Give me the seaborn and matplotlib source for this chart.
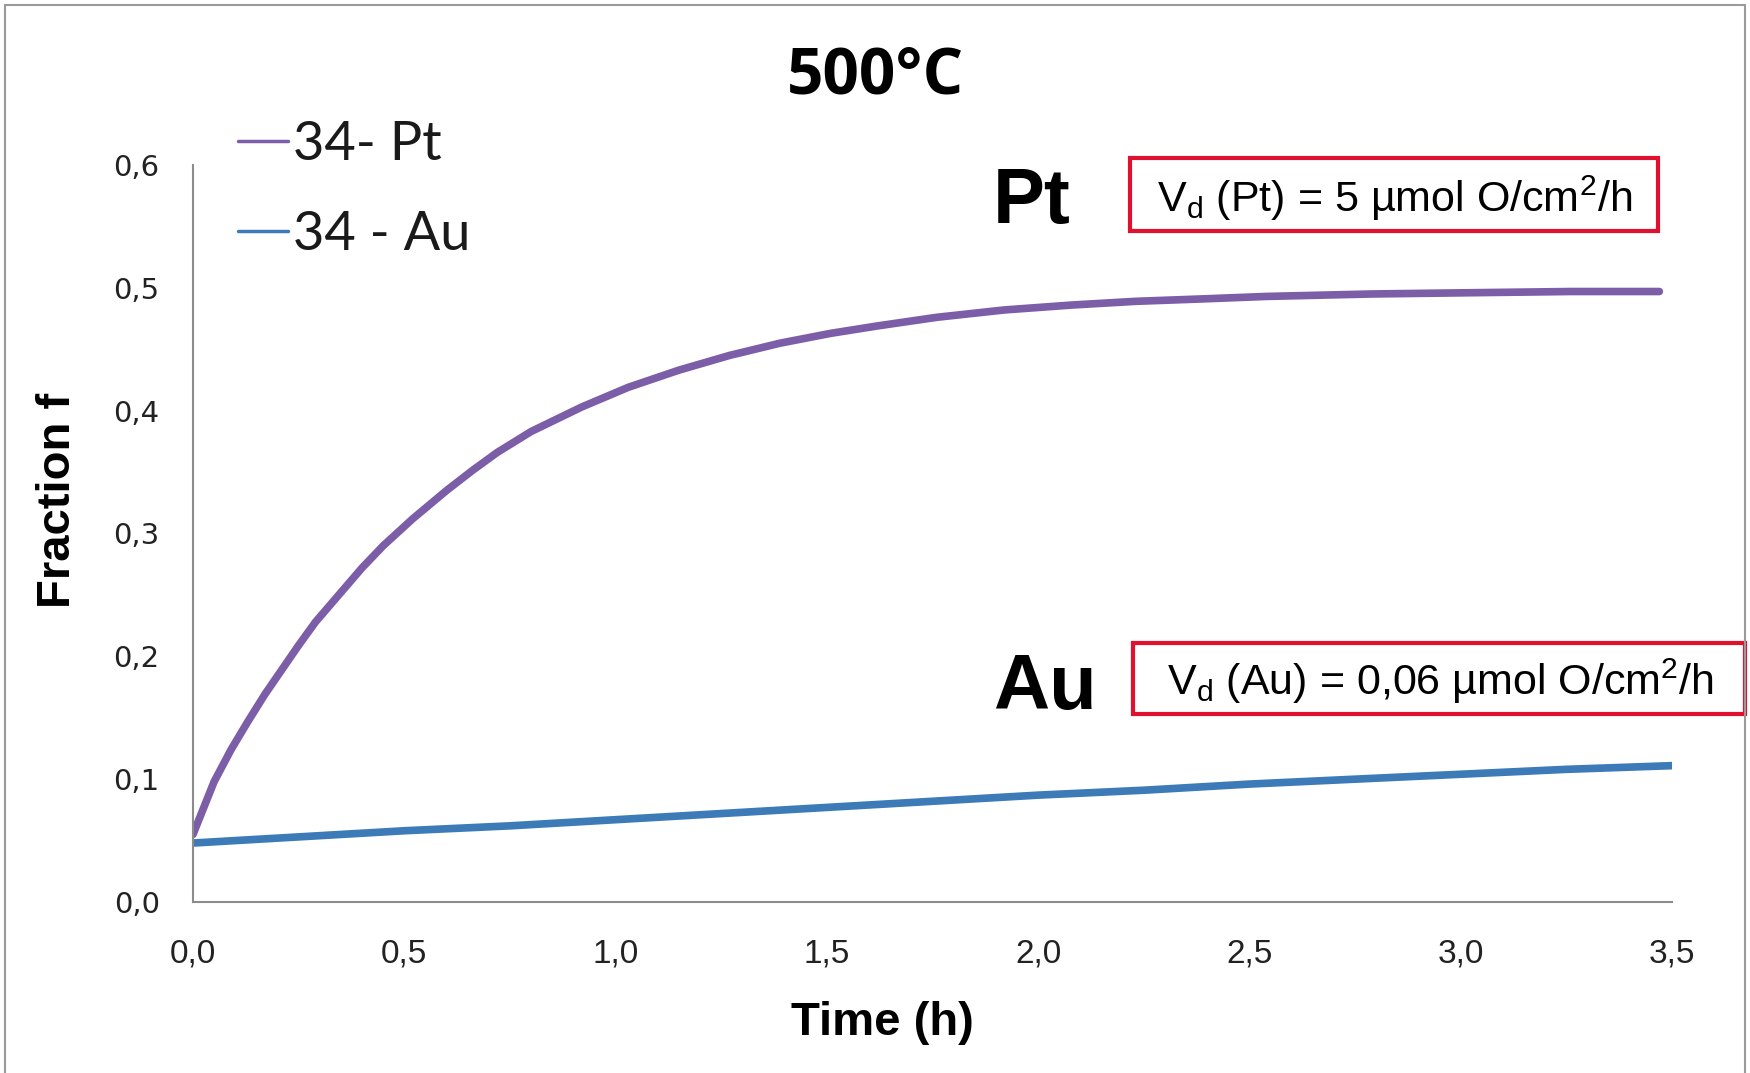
import numpy as np
import pandas as pd
import matplotlib
matplotlib.use("Agg")
import matplotlib.pyplot as plt
from matplotlib import font_manager as fm
from matplotlib.patches import Rectangle
import seaborn as sns

# Oxygen fraction measured at 500 °C for the Pt-coated and Au-coated samples
pt_time = [0.00, 0.05, 0.09, 0.13, 0.17, 0.21, 0.25, 0.29, 0.35, 0.40, 0.45,
           0.52, 0.60, 0.66, 0.72, 0.80, 0.92, 1.03, 1.15, 1.27, 1.39, 1.51,
           1.62, 1.76, 1.92, 2.08, 2.23, 2.39, 2.54, 2.79, 3.02, 3.26, 3.47]
pt_frac = [0.055, 0.098, 0.124, 0.147, 0.169, 0.189, 0.209, 0.228, 0.252,
           0.272, 0.290, 0.312, 0.335, 0.351, 0.366, 0.383, 0.403, 0.419,
           0.433, 0.445, 0.455, 0.463, 0.469, 0.476, 0.482, 0.486, 0.489,
           0.491, 0.493, 0.495, 0.496, 0.497, 0.497]

au_time = [0.00, 0.25, 0.50, 0.75, 1.00, 1.25, 1.50, 1.75, 2.00, 2.25, 2.50,
           2.75, 3.00, 3.25, 3.50]
au_frac = [0.048, 0.053, 0.058, 0.062, 0.067, 0.072, 0.077, 0.082, 0.087,
           0.091, 0.096, 0.100, 0.104, 0.108, 0.111]

series_names = ["34- Pt", "34 - Au"]
series_colors = ["#7B5EA7", "#3D7AB8"]

x_ticks = [0.0, 0.5, 1.0, 1.5, 2.0, 2.5, 3.0, 3.5]
y_ticks = [0.0, 0.1, 0.2, 0.3, 0.4, 0.5, 0.6]

title_text = "500°C"
x_label = "Time (h)"
y_label = "Fraction f"
pt_tag = "Pt"
au_tag = "Au"
pt_rate = r"V$_{\rm d}$ (Pt) = 5 µmol O/cm$^{\rm 2}$/h"
au_rate = r"V$_{\rm d}$ (Au) = 0,06 µmol O/cm$^{\rm 2}$/h"

sns.set_theme(style="white")

installed = {f.name for f in fm.fontManager.ttflist}
narrow = "Liberation Sans Narrow" if "Liberation Sans Narrow" in installed else "Liberation Sans"
plt.rcParams["font.family"] = ["DejaVu Sans"]
plt.rcParams["mathtext.fontset"] = "custom"
plt.rcParams["mathtext.rm"] = "Liberation Sans"
plt.rcParams["mathtext.it"] = "Liberation Sans:italic"
plt.rcParams["mathtext.bf"] = "Liberation Sans:bold"

df = pd.concat([
    pd.DataFrame({"time": pt_time, "frac": pt_frac, "series": series_names[0]}),
    pd.DataFrame({"time": au_time, "frac": au_frac, "series": series_names[1]}),
], ignore_index=True)

W, H = 1750, 1073
fig = plt.figure(figsize=(W / 100, H / 100), dpi=100)
ax = fig.add_axes([193 / W, 1 - 902 / H, (1672 - 193) / W, (902 - 165) / H])

sns.lineplot(data=df, x="time", y="frac", hue="series",
             palette=dict(zip(series_names, series_colors)),
             linewidth=5.5, ax=ax, sort=False, estimator=None)

ax.set_xlim(0, 3.5)
ax.set_ylim(0, 0.6)
ax.set_xticks(x_ticks)
ax.set_yticks(y_ticks)
ax.set_xticklabels([f"{v:.1f}".replace(".", ",") for v in x_ticks],
                   fontfamily=narrow, fontsize=24, color="#222222")
ax.set_yticklabels([f"{v:.1f}".replace(".", ",") for v in y_ticks],
                   fontfamily="DejaVu Sans", fontsize=21, color="#222222")
ax.tick_params(axis="both", length=0)
ax.tick_params(axis="x", pad=26)
ax.tick_params(axis="y", pad=24)

for side in ["top", "right"]:
    ax.spines[side].set_visible(False)
for side in ["left", "bottom"]:
    ax.spines[side].set_color("#8c8c8c")
    ax.spines[side].set_linewidth(1.5)

ax.set_xlabel(x_label, fontfamily=narrow, fontweight="bold", fontsize=34, color="black")
ax.set_ylabel(y_label, fontfamily=narrow, fontweight="bold", fontsize=34, color="black")
ax.xaxis.set_label_coords((882 - 193) / 1479, (902 - 1001) / 737)
ax.yaxis.set_label_coords((80 - 193) / 1479, (902 - 500) / 737)

leg = ax.legend(loc="upper left", bbox_to_anchor=(238 / W, 1 - 120 / H),
                bbox_transform=fig.transFigure, frameon=False, borderpad=0,
                borderaxespad=0, handlelength=0.93, handletextpad=0.08,
                labelspacing=0.75, prop={"family": "Lato", "size": 39})
for line in leg.get_lines():
    line.set_linewidth(2.5)
for t in leg.get_texts():
    t.set_color("#1a1a1a")

fig.text(875 / W, 1 - 93 / H, title_text, ha="center", va="baseline",
         fontfamily="Open Sans", fontweight="bold", fontsize=46, color="black")

fig.text(993 / W, 1 - 223 / H, pt_tag, ha="left", va="baseline",
         fontfamily="Liberation Sans", fontweight="bold", fontsize=56, color="black")
fig.text(993 / W, 1 - 709 / H, au_tag, ha="left", va="baseline",
         fontfamily="Liberation Sans", fontweight="bold", fontsize=56, color="black")

box_red = "#E0102F"
fig.patches.append(Rectangle((1130 / W, 1 - 231 / H), (1658 - 1130) / W, 73 / H,
                             transform=fig.transFigure, fill=False,
                             edgecolor=box_red, linewidth=3))
fig.patches.append(Rectangle((1133 / W, 1 - 714 / H), (1745 - 1133) / W, 71 / H,
                             transform=fig.transFigure, fill=False,
                             edgecolor=box_red, linewidth=3))
fig.text(1395 / W, 1 - 212 / H, pt_rate, ha="center", va="baseline",
         fontfamily="Liberation Sans", fontsize=31, color="black")
fig.text(1440 / W, 1 - 695 / H, au_rate, ha="center", va="baseline",
         fontfamily="Liberation Sans", fontsize=31, color="black")

# outer frame of the chart area
fig.patches.append(Rectangle((5 / W, -0.02), (1745 - 5) / W, 1.02 - 5 / H,
                             transform=fig.transFigure, fill=False,
                             edgecolor="#9a9a9a", linewidth=1.5))

fig.savefig("out.png", dpi=100)
